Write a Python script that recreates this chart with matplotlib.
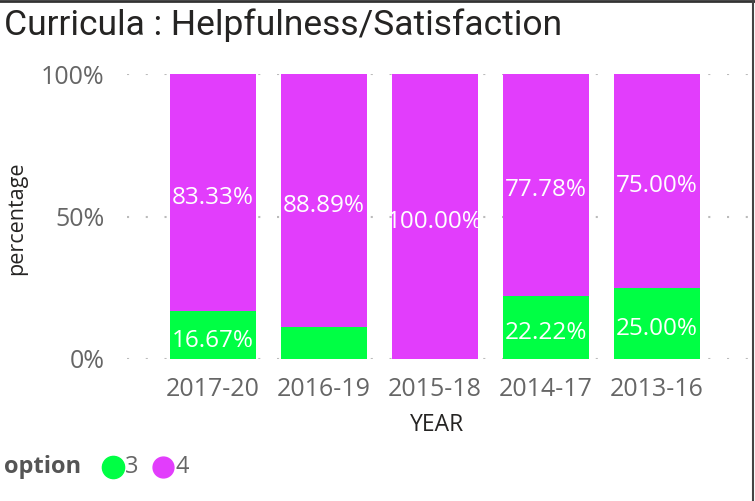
import matplotlib
matplotlib.use("Agg")
import matplotlib.pyplot as plt
from matplotlib.lines import Line2D
import numpy as np

years = ["2017-20", "2016-19", "2015-18", "2014-17", "2013-16"]
opt3 = [16.67, 11.11, 0.0, 22.22, 25.00]
opt4 = [83.33, 88.89, 100.00, 77.78, 75.00]
show3 = [True, False, False, True, True]
show4 = [True, True, True, True, True]
yticks = [0, 50, 100]
ytick_labels = ["0%", "50%", "100%"]

GREEN = "#00FF44"
MAGENTA = "#E23DFC"
FONT = ["Open Sans", "DejaVu Sans"]

fig = plt.figure(figsize=(7.55, 5.01), dpi=100)
ax = fig.add_axes([127/755, 1-359/501, (748-127)/755, (359-74)/501])

x = np.arange(len(years))
w = 0.775
ax.bar(x, opt3, width=w, color=GREEN, zorder=3)
ax.bar(x, opt4, width=w, bottom=opt3, color=MAGENTA, zorder=3)

for i in range(len(years)):
    if show3[i] and opt3[i] > 0:
        ax.annotate(f"{opt3[i]:.2f}%", (x[i], opt3[i]/2), xytext=(0, -4),
                    textcoords="offset points", ha="center", va="center",
                    color="white", fontsize=17.5, family=FONT, zorder=4)
    if show4[i]:
        ax.annotate(f"{opt4[i]:.2f}%", (x[i], opt3[i] + opt4[i]/2), xytext=(0, -4),
                    textcoords="offset points", ha="center", va="center",
                    color="white", fontsize=17.5, family=FONT, zorder=4)

ax.set_xlim(-0.775, 4.82)
ax.set_ylim(0, 100)
ax.set_yticks(yticks)
ax.set_yticklabels(ytick_labels, family=FONT, fontsize=18, color="#666666")
ax.set_xticks(x)
ax.set_xticklabels(years, family=FONT, fontsize=18, color="#666666")
ax.tick_params(length=0)
ax.tick_params(axis="y", pad=16)
ax.tick_params(axis="x", pad=13)
for s in ax.spines.values():
    s.set_visible(False)
ax.yaxis.grid(True, color="#BBBBBB", linestyle=(0, (1, 8)), linewidth=1.5, zorder=0)
ax.set_axisbelow(True)

ax.set_xlabel("YEAR", family=FONT, fontsize=16.5, color="#252423", labelpad=8)
ax.set_ylabel("percentage", family=FONT, fontsize=15.5, color="#252423")
ax.yaxis.set_label_coords(-(127 - 17) / 621, (359 - 218) / 285)
ax.yaxis.label.set_va("center")

fig.text(4/755, 1-25/501, "Curricula : Helpfulness/Satisfaction", ha="left", va="center",
         family=["Roboto", "DejaVu Sans"], fontsize=25.5, color="#252423")

# legend
ly = 1 - 467/501
fig.text(4/755, ly, "option", ha="left", va="center", family=FONT, fontsize=17,
         fontweight="bold", color="#555555")
fig.add_artist(Line2D([113/755], [ly], marker="o", markersize=16, color=GREEN,
                      linestyle="none", transform=fig.transFigure))
fig.text(125/755, ly, "3", ha="left", va="center", family=FONT, fontsize=17, color="#666666")
fig.add_artist(Line2D([163/755], [ly], marker="o", markersize=15, color=MAGENTA,
                      linestyle="none", transform=fig.transFigure))
fig.text(175/755, ly, "4", ha="left", va="center", family=FONT, fontsize=17, color="#666666")

# frame lines top and right
fig.add_artist(Line2D([0, 1], [0.999, 0.999], color="#333333", linewidth=2, transform=fig.transFigure))
fig.add_artist(Line2D([752.5/755, 752.5/755], [0, 1], color="#444444", linewidth=1.5, transform=fig.transFigure))

fig.savefig("out.png", dpi=100)
